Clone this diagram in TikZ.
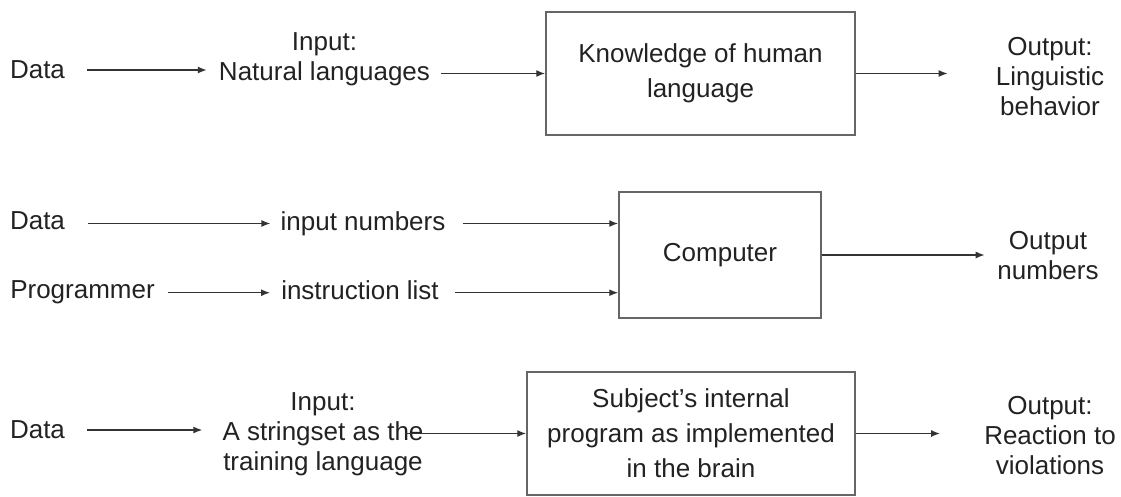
\documentclass[tikz,border=0pt]{standalone}
\usepackage{fontspec}
\setmainfont{Liberation Sans}
\usetikzlibrary{arrows.meta,calc}
\definecolor{txt}{HTML}{222222}
\definecolor{ln}{HTML}{333333}
\definecolor{bx}{HTML}{666666}
\tikzset{
  lbl/.style={font=\fontsize{26}{30}\selectfont, align=center, inner sep=0pt, text=txt},
  procbox/.style={draw=bx, line width=1.5pt, font=\fontsize{26}{35}\selectfont, align=center, inner sep=0pt, text=txt},
  arr/.style={draw=ln, line width=1.4pt, -{Latex[length=9pt,width=7pt]}}
}
\begin{document}
\begin{tikzpicture}[x=1pt,y=-1pt]
\useasboundingbox (0,0) rectangle (1121,496);
% row 1
\node[lbl] (d1) at (37.5,70) {Data};
\node[lbl] (in1) at (324.5,59) {Input:\\Natural languages};
\node[procbox, minimum width=309pt, minimum height=123pt] (k1) at (700.5,73.5) {Knowledge of human\\language};
\node[lbl] (out1) at (1050,77) {Output:\\Linguistic\\behavior};
\draw[arr] ($(d1.east)+(22,0)$) -- ($(in1.west |- d1.east)+(-12,0)$);
\draw[arr] ($(in1.east |- k1.west)+(11,0)$) -- (k1.west);
\draw[arr] (k1.east) -- ($(out1.west |- k1.east)+(-48,0)$);
% row 2
\node[lbl] (d2) at (37.5,221) {Data};
\node[lbl] (n2) at (363,223.5) {input numbers};
\node[lbl] (p2) at (82.5,292.7) {Programmer};
\node[lbl] (l2) at (360,289.8) {instruction list};
\node[procbox, minimum width=202pt, minimum height=126pt] (c2) at (720,255) {Computer};
\node[lbl] (o2) at (1048,256) {Output\\numbers};
\draw[arr] ($(d2.east |- n2.west)+(23,0)$) -- ($(n2.west)+(-10,0)$);
\draw[arr] ($(n2.east)+(17,0)$) -- (n2.east -| c2.west);
\draw[arr] ($(p2.east)+(13,0)$) -- ($(l2.west |- p2.east)+(-11,0)$);
\draw[arr] ($(l2.east |- p2.east)+(16,0)$) -- (p2.east -| c2.west);
\draw[arr] (c2.east) -- ($(o2.west |- c2.east)+(-12.5,0)$);
% row 3
\node[lbl] (d3) at (37.5,430) {Data};
\node[lbl] (i3) at (323,433.8) {Input:\\A stringset as the\\training language};
\node[procbox, minimum width=328pt, minimum height=123pt] (s3) at (691,433.5) {Subject’s internal\\program as implemented\\in the brain};
\node[lbl] (o3) at (1050,436) {Output:\\Reaction to\\violations};
\draw[arr] ($(d3.east)+(22,0)$) -- ($(i3.west |- d3.east)+(-20,0)$);
\draw[arr] ($(i3.east |- s3.west)+(-19,0)$) -- (s3.west);
\draw[arr] (s3.east) -- ($(o3.west |- s3.east)+(-44,0)$);
\end{tikzpicture}
\end{document}
